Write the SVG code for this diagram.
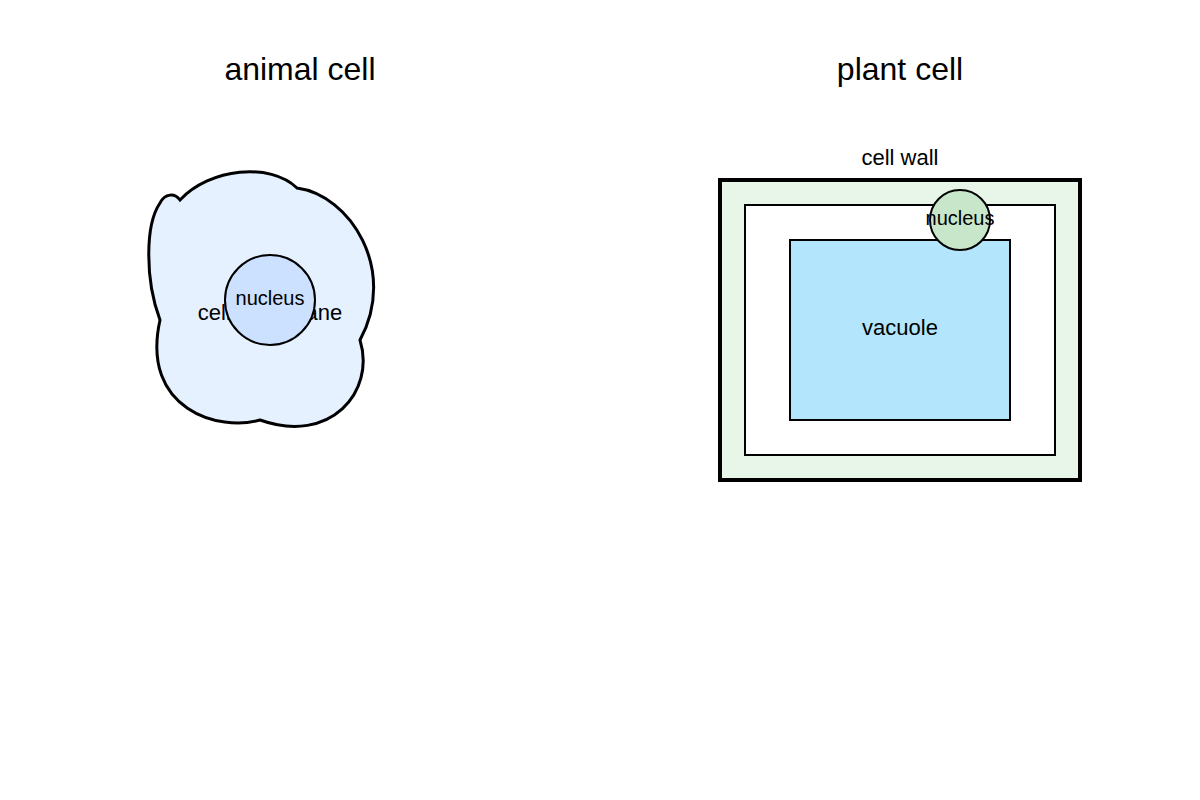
<svg xmlns="http://www.w3.org/2000/svg" width="1200" height="800" viewBox="0 0 1200 800">
<style>
text{font-family:"Liberation Sans",Arial,sans-serif;fill:#000;text-anchor:middle}
.t{font-size:32px}.l{font-size:22px}.s{font-size:20px}
</style>
<rect width="1200" height="800" fill="#fff"/>
<text class="t" x="300" y="80">animal cell</text>
<text class="t" x="900" y="80">plant cell</text>
<g id="animal-membrane">
<path d="M180,200 C210,168 270,162 297,188 C350,195 398,270 360,340 C376,392 330,445 260,420 C220,432 140,410 160,320 C145,280 145,225 160,203 C165,193 175,193 180,200 Z" fill="#e5f1ff" stroke="#000" stroke-width="3"/>
<text class="l" x="270" y="320">cell membrane</text>
</g>
<g id="animal-nucleus">
<circle cx="270" cy="300" r="45" fill="#cce0ff" stroke="#000" stroke-width="2"/>
<text class="s" x="270" y="305">nucleus</text>
</g>
<g id="cell-wall">
<rect x="720" y="180" width="360" height="300" fill="#e8f5e9" stroke="#000" stroke-width="4"/>
<text class="l" x="900" y="165">cell wall</text>
</g>
<g id="plant-membrane">
<rect x="745" y="205" width="310" height="250" fill="#fff" stroke="#000" stroke-width="2"/>
</g>
<g id="vacuole">
<rect x="790" y="240" width="220" height="180" fill="#b3e5fc" stroke="#000" stroke-width="2"/>
<text class="l" x="900" y="335">vacuole</text>
</g>
<g id="plant-nucleus">
<circle cx="960" cy="220" r="30" fill="#c8e6c9" stroke="#000" stroke-width="2"/>
<text class="s" x="960" y="225">nucleus</text>
</g>
<g id="connectors"/>
</svg>
